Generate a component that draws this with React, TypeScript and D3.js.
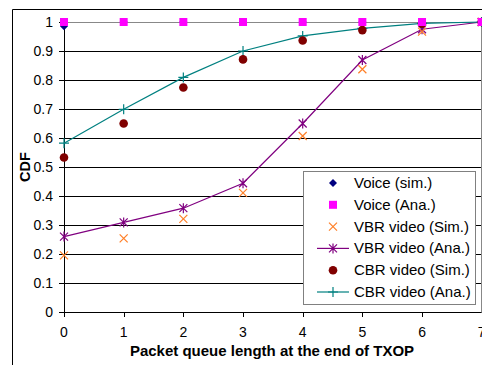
import React from "react";
import * as d3 from "d3";

const xCats = [0, 1, 2, 3, 4, 5, 6, 7];
const yTicks = [0, 0.1, 0.2, 0.3, 0.4, 0.5, 0.6, 0.7, 0.8, 0.9, 1];
const voiceSim = [0.985, 1, 1, 1, 1, 1, 1, 1];
const voiceAna = [1, 1, 1, 1, 1, 1, 1, 1];
const vbrSim = [0.195, 0.254, 0.321, 0.411, 0.607, 0.837, 0.967, 1];
const vbrAna = [0.26, 0.309, 0.358, 0.444, 0.65, 0.869, 0.975, 1];
const cbrSim = [0.533, 0.65, 0.774, 0.871, 0.936, 0.972, 0.994, 1];
const cbrAna = [0.582, 0.699, 0.809, 0.9, 0.952, 0.978, 0.995, 1];

const seriesNames = [
  "Voice (sim.)",
  "Voice (Ana.)",
  "VBR video (Sim.)",
  "VBR video (Ana.)",
  "CBR video (Sim.)",
  "CBR video (Ana.)",
];

const FONT = "'Liberation Sans', Arial, sans-serif";

type MarkerKind = "diamond" | "square" | "x" | "asterisk" | "circle" | "plus";

function Marker({ kind, x, y, color }: { kind: MarkerKind; x: number; y: number; color: string }) {
  const s = 4;
  switch (kind) {
    case "diamond":
      return <path d={`M${x},${y - s}L${x + s},${y}L${x},${y + s}L${x - s},${y}Z`} fill={color} />;
    case "square":
      return <rect x={x - s} y={y - s} width={2 * s} height={2 * s} fill={color} />;
    case "x":
      return (
        <path d={`M${x - s},${y - s}L${x + s},${y + s}M${x - s},${y + s}L${x + s},${y - s}`} stroke={color} strokeWidth={1.2} fill="none" />
      );
    case "asterisk":
      return (
        <path
          d={`M${x - s},${y - s}L${x + s},${y + s}M${x - s},${y + s}L${x + s},${y - s}M${x},${y - s - 1}L${x},${y + s + 1}`}
          stroke={color}
          strokeWidth={1.2}
          fill="none"
        />
      );
    case "circle":
      return <circle cx={x} cy={y} r={4.3} fill={color} />;
    case "plus":
      return <path d={`M${x - s - 1},${y}L${x + s + 1},${y}M${x},${y - s - 1}L${x},${y + s + 1}`} stroke={color} strokeWidth={1.2} fill="none" />;
  }
  return null;
}

export default function App() {
  const W = 482;
  const H = 365;
  const left = 64;
  const right = 481.7;
  const top = 22;
  const bottom = 312;

  const x = d3.scaleLinear().domain([0, 7]).range([left, right]);
  const y = d3.scaleLinear().domain([0, 1]).range([bottom, top]);
  const line = d3
    .line<number>()
    .x((_, i) => x(xCats[i]))
    .y((d) => y(d));

  const series: { data: number[]; kind: MarkerKind; color: string; line: boolean }[] = [
    { data: voiceSim, kind: "diamond", color: "#000080", line: false },
    { data: voiceAna, kind: "square", color: "#FF00FF", line: false },
    { data: vbrSim, kind: "x", color: "#FF7F27", line: false },
    { data: vbrAna, kind: "asterisk", color: "#800080", line: true },
    { data: cbrSim, kind: "circle", color: "#800000", line: false },
    { data: cbrAna, kind: "plus", color: "#008080", line: true },
  ];

  const drawOrder = [3, 2, 5, 4, 0, 1];

  const legX = 303.5;
  const legY = 171.5;
  const legW = 172;
  const legH = 133;
  const rowH = 21.8;

  return (
    <svg width={W} height={H} style={{ display: "block", position: "absolute", left: 0, top: 0 }}>
      <rect x={0} y={0} width={W} height={H} fill="#fff" />
      <path d={`M12.5,${H}L12.5,9.5L${W},9.5`} stroke="#000" strokeWidth={1} fill="none" />
      {yTicks.map((t) => (
        <line
          key={t}
          x1={left}
          x2={right}
          y1={Math.round(y(t)) + 0.5}
          y2={Math.round(y(t)) + 0.5}
          stroke={t === 1 ? "#888" : "#000"}
          strokeWidth={1}
        />
      ))}
      <line x1={481.5} x2={481.5} y1={top} y2={bottom} stroke="#888" />
      <line x1={left + 0.5} x2={left + 0.5} y1={top} y2={bottom + 0.5} stroke="#000" />
      {yTicks.map((t) => (
        <line key={"yt" + t} x1={left - 5} x2={left} y1={Math.round(y(t)) + 0.5} y2={Math.round(y(t)) + 0.5} stroke="#000" />
      ))}
      {xCats.map((c) => (
        <line key={"xt" + c} x1={Math.round(x(c)) + 0.5} x2={Math.round(x(c)) + 0.5} y1={bottom} y2={bottom + 5} stroke="#000" />
      ))}
      {yTicks.map((t) => (
        <text key={"yl" + t} x={53} y={y(t) + 5} textAnchor="end" fontFamily={FONT} fontSize={14} fill="#000">
          {d3.format("~g")(t)}
        </text>
      ))}
      {xCats.map((c) => (
        <text key={"xl" + c} x={x(c)} y={337} textAnchor="middle" fontFamily={FONT} fontSize={14} fill="#000">
          {c}
        </text>
      ))}
      <text x={272} y={356} textAnchor="middle" fontFamily={FONT} fontSize={15} fontWeight="bold" fill="#000">
        Packet queue length at the end of TXOP
      </text>
      <text
        transform={`translate(29.5,${(top + bottom) / 2}) rotate(-90)`}
        textAnchor="middle"
        fontFamily={FONT}
        fontSize={14.5}
        fontWeight="bold"
        fill="#000"
      >
        CDF
      </text>
      {drawOrder.map((si) => {
        const s = series[si];
        return (
          <g key={"s" + si}>
            {s.line && <path d={line(s.data) || ""} fill="none" stroke={s.color} strokeWidth={1.2} />}
            {s.data.map((v, i) => (
              <Marker key={i} kind={s.kind} x={x(xCats[i])} y={y(v)} color={s.color} />
            ))}
          </g>
        );
      })}
      <rect x={legX} y={legY} width={legW} height={legH} fill="#fff" stroke="#808080" strokeWidth={1} />
      {series.map((s, i) => {
        const cy = legY + 11.5 + i * rowH;
        return (
          <g key={"lg" + i}>
            {s.line && <line x1={317} x2={349} y1={cy} y2={cy} stroke={s.color} strokeWidth={1.2} />}
            <Marker kind={s.kind} x={333} y={cy} color={s.color} />
            <text x={354} y={cy + 5} fontFamily={FONT} fontSize={15} fill="#000">
              {seriesNames[i]}
            </text>
          </g>
        );
      })}
    </svg>
  );
}
